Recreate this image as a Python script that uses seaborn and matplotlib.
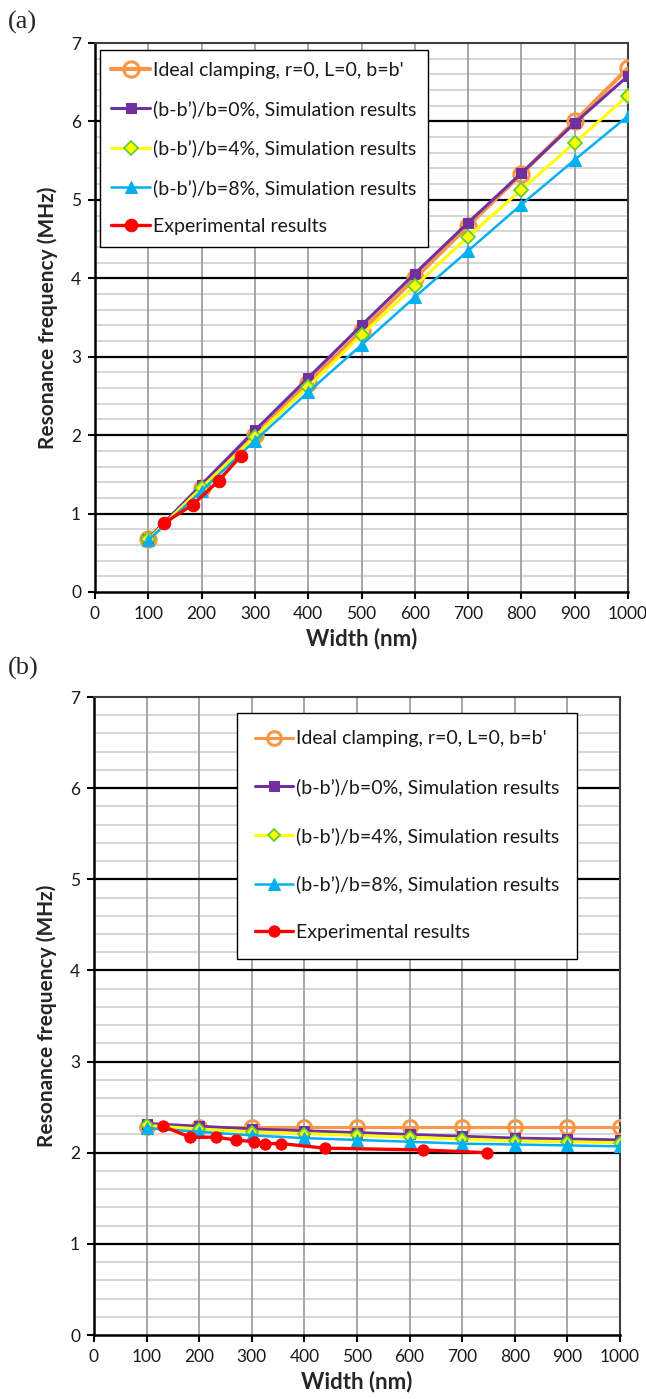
import numpy as np
import pandas as pd
import matplotlib
matplotlib.use("Agg")
import matplotlib.pyplot as plt
import seaborn as sns
from matplotlib.ticker import MultipleLocator

# ---------------- data ----------------
width_sim = [100, 200, 300, 400, 500, 600, 700, 800, 900, 1000]

a_ideal = [0.67, 1.33, 2.00, 2.67, 3.33, 4.00, 4.67, 5.33, 6.00, 6.68]
a_b0 = [0.68, 1.37, 2.06, 2.73, 3.40, 4.06, 4.71, 5.34, 5.98, 6.58]
a_b4 = [0.67, 1.33, 1.98, 2.62, 3.28, 3.90, 4.53, 5.13, 5.73, 6.33]
a_b8 = [0.66, 1.29, 1.93, 2.55, 3.15, 3.76, 4.35, 4.94, 5.51, 6.07]
a_exp_w = [130, 183, 232, 273]
a_exp_f = [0.88, 1.11, 1.42, 1.73]

b_ideal = [2.28, 2.28, 2.28, 2.28, 2.28, 2.28, 2.28, 2.28, 2.28, 2.28]
b_b0 = [2.32, 2.29, 2.26, 2.24, 2.22, 2.20, 2.18, 2.16, 2.15, 2.14]
b_b4 = [2.30, 2.26, 2.23, 2.21, 2.19, 2.17, 2.15, 2.13, 2.12, 2.11]
b_b8 = [2.27, 2.23, 2.19, 2.16, 2.14, 2.12, 2.10, 2.09, 2.08, 2.07]
b_exp_w = [131, 183, 232, 270, 304, 325, 356, 439, 626, 747]
b_exp_f = [2.29, 2.17, 2.17, 2.14, 2.12, 2.10, 2.10, 2.05, 2.03, 2.00]

labels = ["Ideal clamping, r=0, L=0, b=b'",
          "(b-b\u2019)/b=0%, Simulation results",
          "(b-b\u2019)/b=4%, Simulation results",
          "(b-b\u2019)/b=8%, Simulation results",
          "Experimental results"]

sns.set_theme(style="white")
plt.rcParams['font.family'] = ['Lato', 'DejaVu Sans']

fig = plt.figure(figsize=(6.46, 13.99), dpi=100)
W, H = 646, 1399


def make_ax(l, r, t, b):
    return fig.add_axes([l / W, 1 - b / H, (r - l) / W, (b - t) / H])


def style(ax):
    ax.set_xlim(0, 1000)
    ax.set_ylim(0, 7)
    ax.xaxis.set_major_locator(MultipleLocator(100))
    ax.yaxis.set_major_locator(MultipleLocator(1))
    ax.yaxis.set_minor_locator(MultipleLocator(0.2))
    ax.grid(False)
    ax.set_axisbelow(True)
    for yy in np.arange(0.2, 7.0, 0.2):
        if abs(yy - round(yy)) > 1e-6:
            ax.axhline(yy, color="#D3D3D3", lw=1.3, zorder=0)
    for xx in range(100, 1000, 100):
        ax.axvline(xx, color="#A0A0A0", lw=1.3, zorder=0.5)
    for yy in range(1, 7):
        ax.axhline(yy, color="black", lw=1.6, zorder=0.6)
    for s in ["left", "bottom"]:
        ax.spines[s].set_color("black")
        ax.spines[s].set_linewidth(1.8)
    for s in ["top", "right"]:
        ax.spines[s].set_color("#404040")
        ax.spines[s].set_linewidth(1.5)
    ax.tick_params(axis="both", which="major", direction="out", length=5,
                   width=1.5, color="black", labelsize=12.5, pad=5,
                   bottom=True, left=True, labelcolor="#1a1a1a")
    ax.tick_params(axis="y", which="minor", left=False)
    ax.set_xlabel("Width (nm)", fontsize=16, fontweight="bold", labelpad=4)
    ax.set_ylabel("Resonance frequency (MHz)", fontsize=15, fontweight="bold",
                  labelpad=9)


def draw(ax, ideal, b0, b4, b8, ew, ef, big):
    ms = 1.0 if big else 0.9
    sns.lineplot(x=width_sim, y=ideal, ax=ax, color="#F79646", lw=3.0 if big else 2.2,
                 marker="o", markersize=11 * ms, markerfacecolor="none",
                 markeredgecolor="#F79646", markeredgewidth=2.2, label=labels[0],
                 zorder=3)
    sns.lineplot(x=width_sim, y=b0, ax=ax, color="#7030A0", lw=2.2,
                 marker="s", markersize=7.5 * ms, markeredgecolor="#7030A0",
                 label=labels[1], zorder=4)
    sns.lineplot(x=width_sim, y=b4, ax=ax, color="#FFFF00", lw=2.2,
                 marker="D", markersize=7 * ms, markerfacecolor="#FFFF00",
                 markeredgecolor="#66CC33", markeredgewidth=1.3,
                 label=labels[2], zorder=5)
    sns.lineplot(x=width_sim, y=b8, ax=ax, color="#00B0F0", lw=1.8,
                 marker="^", markersize=9 * ms, markeredgecolor="#00B0F0",
                 label=labels[3], zorder=6)
    sns.lineplot(x=ew, y=ef, ax=ax, color="#FF0000", lw=2.4,
                 marker="o", markersize=9 * ms, markeredgecolor="#FF0000",
                 label=labels[4], zorder=7)


# ---------- panel (a) ----------
ax1 = make_ax(95, 628, 43, 592)
draw(ax1, a_ideal, a_b0, a_b4, a_b8, a_exp_w, a_exp_f, True)
style(ax1)
leg1 = ax1.legend(loc="upper left", bbox_to_anchor=(0.009, 0.987), fontsize=14,
                  frameon=True, fancybox=False, edgecolor="black", framealpha=1,
                  labelspacing=1.1, handlelength=2.0, handletextpad=0.15,
                  borderpad=0.6, borderaxespad=0)
leg1.get_frame().set_linewidth(1.0)
leg1.set_zorder(10)
for t in leg1.get_texts():
    t.set_color("#1a1a1a")

# ---------- panel (b) ----------
ax2 = make_ax(94, 620, 697, 1335)
draw(ax2, b_ideal, b_b0, b_b4, b_b8, b_exp_w, b_exp_f, False)
style(ax2)
leg2 = ax2.legend(loc="upper left", bbox_to_anchor=(0.272, 0.975), fontsize=14,
                  frameon=True, fancybox=False, edgecolor="black", framealpha=1,
                  labelspacing=1.58, handlelength=2.0, handletextpad=0.15,
                  borderpad=0.9, borderaxespad=0)
leg2.get_frame().set_linewidth(1.0)
leg2.set_zorder(10)
for t in leg2.get_texts():
    t.set_color("#1a1a1a")

fig.text(8 / W, 1 - 22 / H, "(a)", fontsize=19, family="Liberation Serif", va="center")
fig.text(8 / W, 1 - 668 / H, "(b)", fontsize=19, family="Liberation Serif", va="center")

fig.savefig("out.png", dpi=100)
